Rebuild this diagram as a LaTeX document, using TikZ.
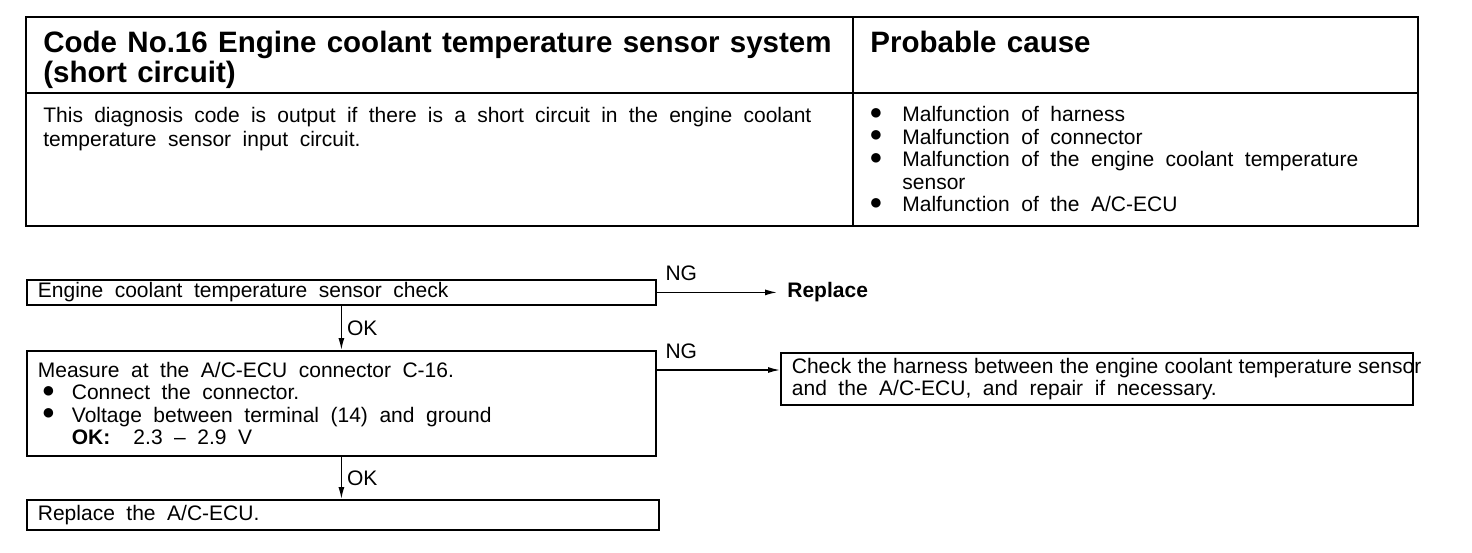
\documentclass[tikz,border=0pt]{standalone}
\usepackage{fontspec}
\setmainfont{Liberation Sans}
\usepackage{tikz}
\usetikzlibrary{arrows.meta, positioning, calc}
\newcommand{\bigbul}{\raisebox{1.2pt}{\fontsize{11}{11}\selectfont ●}}
\newcommand{\bul}{\makebox[16.5pt][l]{\bigbul}}
\newcommand{\widesp}{\spaceskip=.55em plus .4em minus .08em\relax}

\begin{document}
\begin{tikzpicture}[
  x=0.5pt, y=-0.5pt,
  tbl/.style={line width=1.3pt},
  sep/.style={line width=1pt},
  hd/.style={anchor=north west, inner sep=0pt, align=left, font=\fontsize{14.75}{12.5}\selectfont\bfseries,
    execute at begin node={\spaceskip=.35em\relax}},
  txt/.style={anchor=north west, inner sep=0pt, align=left, font=\fontsize{10.5}{12}\selectfont,
    execute at begin node=\widesp},
  stepbox/.style={draw, line width=0.9pt, anchor=north west, inner xsep=5.5pt, inner ysep=0pt, align=left,
    font=\fontsize{10.5}{11.3}\selectfont, execute at begin node=\widesp},
  lbl/.style={inner sep=0pt, font=\fontsize{10.5}{11}\selectfont},
  arr/.style={-{Latex[length=6pt, width=3pt]}, line width=0.7pt}
]
  \useasboundingbox (0,0) rectangle (1472,552);

  % Table
  \draw[tbl] (26,17) rectangle (1418,226);
  \draw[sep] (853,17) -- (853,226);
  \draw[sep] (26,93) -- (1418,93);

  \node[hd] (code) at (43,31) {Code No.16 Engine coolant temperature sensor system\\(short circuit)};
  \node[hd] (cause) at (870,31) {Probable cause};

  \node[txt, text width=384pt] (desc) at (43,107)
    {\makebox[384pt][s]{This diagnosis code is output if there is a short circuit in the engine coolant}\\
     temperature sensor input circuit.};
  \node[txt, font=\fontsize{10.5}{11.25}\selectfont] (list) at (869,106)
    {\bul Malfunction of harness\\
     \bul Malfunction of connector\\
     \bul Malfunction of the engine coolant temperature\\
     \hspace*{16.5pt}sensor\\
     \bul Malfunction of the A/C-ECU};

  % Flow chart
  \node[stepbox, text width=303.5pt, minimum height=12.5pt] (chk) at (26,279)
    {Engine coolant temperature sensor check};
  \node[anchor=base west, inner sep=0pt, font=\fontsize{10.5}{11}\selectfont\bfseries] (repl) at (787,297) {Replace};

  \node[stepbox, text width=303.5pt, minimum height=52.5pt] (meas) at (26,350)
    {Measure at the A/C-ECU connector C-16.\\
     \hspace*{2pt}\makebox[15pt][l]{\bigbul}Connect the connector.\\
     \hspace*{2pt}\makebox[15pt][l]{\bigbul}Voltage between terminal (14) and ground\\
     \hspace*{17pt}\textbf{OK:} \ 2.3 -- 2.9 V};

  \node[stepbox, text width=305pt, minimum height=26pt, font=\fontsize{10.5}{11}\selectfont] (harn) at (780,352)
    {\makebox[305pt][l]{\spaceskip=.3em\relax Check the harness between the engine coolant temperature sensor}\\
     and the A/C-ECU, and repair if necessary.};

  \node[stepbox, text width=305pt, minimum height=15pt] (ecu) at (26,499)
    {Replace the A/C-ECU.};

  % Connectors
  \draw[arr] (chk.east) -- node[pos=0, anchor=base west, lbl, xshift=4pt, yshift=6pt] {NG} ([xshift=-5pt]chk.east -| repl.west);
  \draw[arr] (chk.south) -- node[right, lbl, xshift=2.5pt] {OK} (chk.south |- meas.north);
  \coordinate (ngout) at ([yshift=-10pt]meas.north east);
  \draw[arr] (ngout) -- node[pos=0, anchor=base west, lbl, xshift=4pt, yshift=6pt] {NG} (harn.west |- ngout);
  \draw[arr] (meas.south) -- node[right, lbl, xshift=2.5pt] {OK} (meas.south |- ecu.north);
\end{tikzpicture}
\end{document}
